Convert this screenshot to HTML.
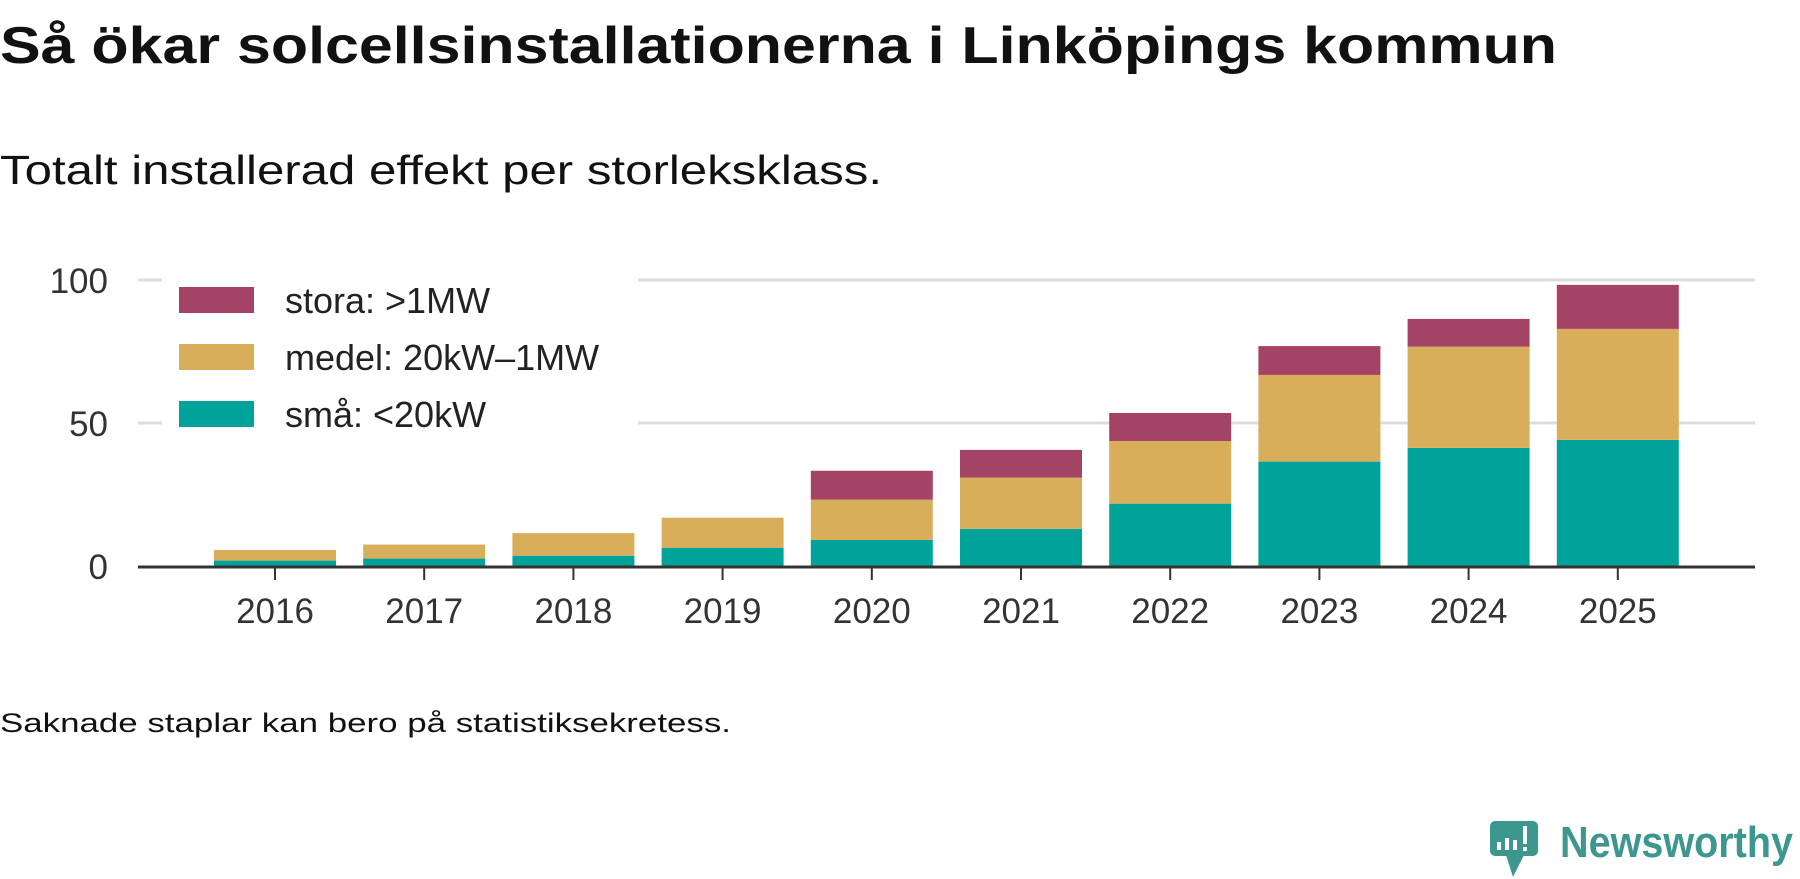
<!DOCTYPE html>
<html><head><meta charset="utf-8"><style>
html,body{margin:0;padding:0;background:#fff;}
svg{display:block;font-family:"Liberation Sans","DejaVu Sans",sans-serif;}
</style></head><body>
<svg id="chart" width="1800" height="879" viewBox="0 0 1800 879" xmlns="http://www.w3.org/2000/svg">
<text x="0" y="63" font-size="52" font-weight="bold" fill="#111" textLength="1557" lengthAdjust="spacingAndGlyphs">Så ökar solcellsinstallationerna i Linköpings kommun</text>
<text x="0" y="184" font-size="41" fill="#111" textLength="882" lengthAdjust="spacingAndGlyphs">Totalt installerad effekt per storleksklass.</text>
<g id="grid"></g>
<g id="bars"></g>
<g id="axes"></g>
<g>
<rect x="162" y="276" width="476" height="160" fill="#fff"/>
<rect x="179" y="287" width="75" height="26" fill="#a54367"/>
<text x="285" y="313" font-size="36" fill="#222">stora: &gt;1MW</text>
<rect x="179" y="344" width="75" height="26" fill="#d9ae5b"/>
<text x="285" y="370" font-size="36" fill="#222">medel: 20kW–1MW</text>
<rect x="179" y="401" width="75" height="26" fill="#00a39a"/>
<text x="285" y="427" font-size="36" fill="#222">små: &lt;20kW</text>
</g>
<text x="0" y="732" font-size="27" fill="#111" textLength="731" lengthAdjust="spacingAndGlyphs">Saknade staplar kan bero på statistiksekretess.</text>
<g>
<rect x="1490" y="821" width="48" height="35" rx="5" fill="#3d978f"/>
<path d="M1506 855 L1513 877 L1524 855 Z" fill="#3d978f"/>
<rect x="1497" y="842" width="4" height="8" fill="#fff"/><rect x="1505" y="838" width="4" height="12" fill="#fff"/><rect x="1513" y="840" width="4" height="10" fill="#fff"/><rect x="1523" y="826" width="4" height="18" fill="#fff"/><rect x="1523" y="847" width="4" height="4" fill="#fff"/>
<text x="1560" y="857" font-size="44" font-weight="bold" fill="#3d978f" textLength="233" lengthAdjust="spacingAndGlyphs">Newsworthy</text>
</g>
</svg>
<script>
const years = ["2016","2017","2018","2019","2020","2021","2022","2023","2024","2025"];
const sma = [1.9,2.6,3.6,6.4,9.1,13.0,21.8,36.5,41.3,44.1];
const medel = [3.7,4.9,7.9,10.5,14.1,17.9,21.9,30.3,35.4,38.8];
const stora = [0,0,0,0,10.1,9.7,9.8,10.1,9.7,15.4];
const yTicks = [0,50,100];

const NS = "http://www.w3.org/2000/svg";
const plotL = 138, plotR = 1755, y0 = 566, pxPerUnit = 2.86;
const firstC = 275, step = 149.2, barW = 122;
const yS = v => y0 - v * pxPerUnit;
const xS = i => firstC + i * step;
function mk(tag, attrs, parent){ const e=document.createElementNS(NS,tag); for(const k in attrs) e.setAttribute(k,attrs[k]); parent.appendChild(e); return e; }

const grid = document.getElementById('grid');
const axes = document.getElementById('axes');
const bars = document.getElementById('bars');
yTicks.forEach(t => {
  if (t > 0) {
    const g = mk('line',{x1:plotL,x2:plotR,y1:yS(t),y2:yS(t),stroke:'#dddddd','stroke-width':3},grid);
    
    
  }
  const tl = mk('text',{x:108,y:yS(t)+13,'text-anchor':'end','font-size':35,fill:'#333'},axes);
  tl.textContent = t;
  
  
});
const series = [[sma,'#00a39a','sma'],[medel,'#d9ae5b','medel'],[stora,'#a54367','stora']];
years.forEach((yr,i) => {
  let base = 0;
  series.forEach(([arr,col,nm]) => {
    const v = arr[i];
    if (v > 0) {
      const r = mk('rect',{x:xS(i)-barW/2,y:yS(base+v),width:barW,height:v*pxPerUnit,fill:col},bars);
      
      
    }
    base += v;
  });
  const tk = mk('line',{x1:xS(i),x2:xS(i),y1:y0,y2:y0+14,stroke:'#333','stroke-width':2},axes);
  
  
  const lb = mk('text',{x:xS(i),y:623,'text-anchor':'middle','font-size':35,fill:'#333'},axes);
  lb.textContent = yr;
  
  
});
const ax = mk('line',{x1:plotL,x2:plotR,y1:y0+1,y2:y0+1,stroke:'#333','stroke-width':3},axes);


</script>
</body></html>
